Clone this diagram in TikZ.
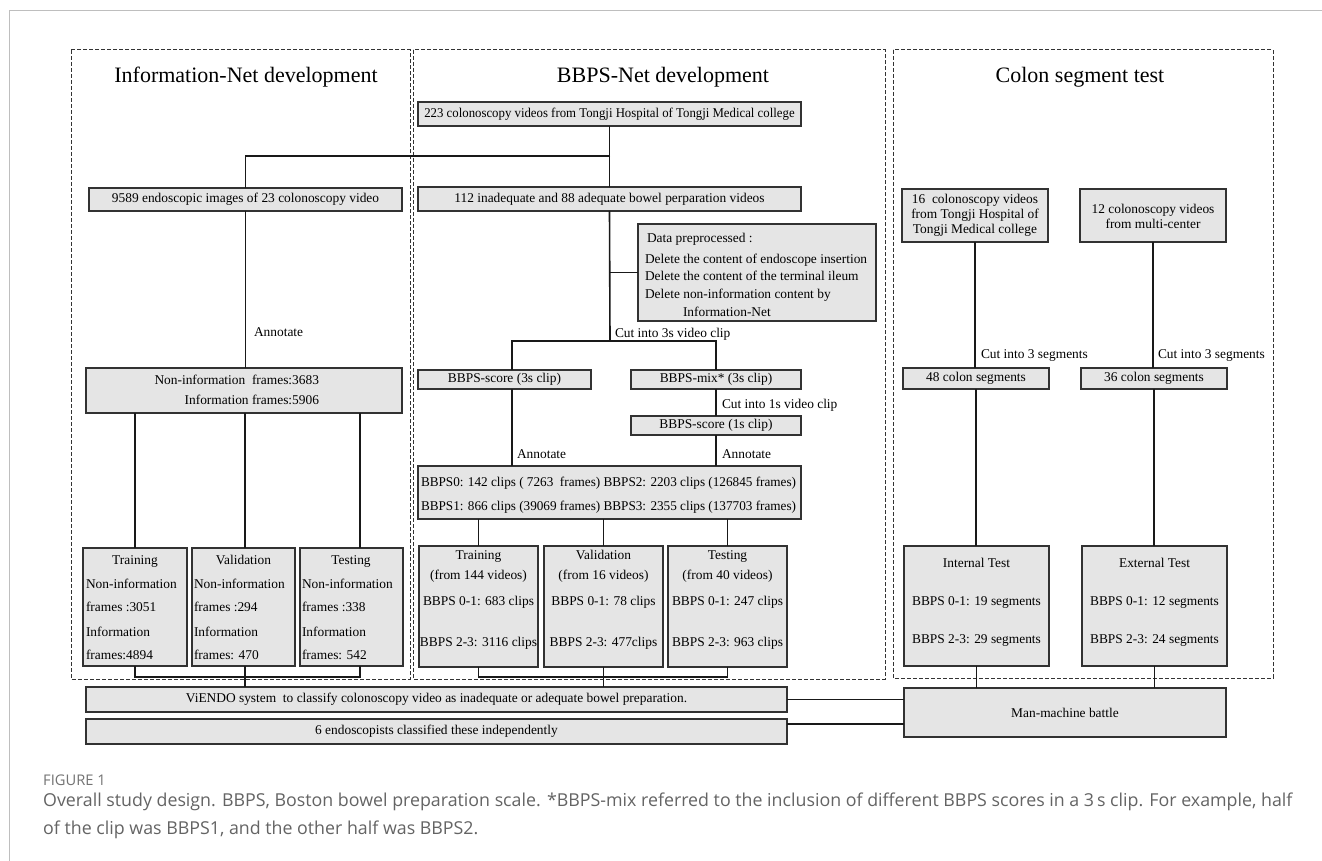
\documentclass[tikz,border=0pt]{standalone}
\usepackage{fontspec}
\setmainfont{Liberation Serif}
\newfontfamily\capfont{Open Sans}
\usetikzlibrary{calc}
\definecolor{boxfill}{RGB}{229,229,229}
\definecolor{boxdraw}{RGB}{50,50,50}
\definecolor{framegray}{RGB}{190,190,190}
\definecolor{capgray}{RGB}{100,100,100}
\definecolor{figgray}{RGB}{115,115,115}
\tikzset{
 box/.style={draw=boxdraw, fill=boxfill, line width=1.35pt, inner sep=0pt, outer sep=0pt, font=\fontsize{13.4}{15}\selectfont},
 txt/.style={inner sep=0pt, outer sep=0pt, font=\fontsize{13.4}{15}\selectfont},
 ttl/.style={inner sep=0pt, outer sep=0pt, font=\fontsize{22}{24}\selectfont},
 conn/.style={draw=black!90, line width=1.6pt},
 panel/.style={draw=black!80, line width=1pt, dash pattern=on 4pt off 2pt},
}
\newcommand{\bx}[6]{\node[box,minimum width={#4pt-#2pt},minimum height={#5pt-#3pt}] (#1) at ({(#2+#4)/2},{(#3+#5)/2}) {#6};}
\newcommand{\tx}[5][base]{\node[txt,anchor=#1] (#2) at (#3,{#4+4.5}) {#5};}
\begin{document}
\begin{tikzpicture}[x=1pt,y=-1pt]
\useasboundingbox (0,0) rectangle (1322,861);
\fill[white] (0,0) rectangle (1322,861);
\draw[framegray, line width=1pt] (9,861) -- (9,11) -- (1322,11);

% panels
\draw[panel] (71,50) rectangle (410,679);
\draw[panel] (413,50) rectangle (885,679);
\draw[panel] (893,50) rectangle (1273,678);
\node[ttl,anchor=base] (t1) at (246,83) {Information-Net development};
\node[ttl,anchor=base] (t2) at (663,83) {BBPS-Net development};
\node[ttl,anchor=base] (t3) at (1080,83) {Colon segment test};

% helper coordinates
\coordinate (j1) at (610,156);
\coordinate (j2) at (610,341);
\coordinate (x360) at (360,0);
\coordinate (x512) at (512,0);
\coordinate (x245) at (245,0);
\coordinate (y677) at (0,677);
\coordinate (y724) at (0,724);

% ---------------- left panel
\bx{imgs}{89}{188}{402}{211}{9589 endoscopic images of 23 colonoscopy video}
\bx{noninfo}{86}{368}{402}{413}{}
\tx[base east]{ni1}{319}{380}{Non-information\ \ frames:3683}
\tx[base east]{ni2}{319}{400}{Information frames:5906}
\tx[base west]{annL}{254}{332}{Annotate}
\bx{trL}{83}{548}{187}{666}{}
\bx{vaL}{192}{548}{295}{666}{}
\bx{teL}{300}{548}{403}{666}{}
\tx{trLt}{135}{560}{Training}
\tx[base west]{trL1}{86}{584}{Non-information}
\tx[base west]{trL2}{86}{607}{frames :3051}
\tx[base west]{trL3}{86}{632}{Information}
\tx[base west]{trL4}{86}{655}{frames:4894}
\tx{vaLt}{243.5}{560}{Validation}
\tx[base west]{vaL1}{194}{584}{Non-information}
\tx[base west]{vaL2}{194}{607}{frames :294}
\tx[base west]{vaL3}{194}{632}{Information}
\tx[base west]{vaL4}{194}{655}{frames: 470}
\tx{teLt}{351}{560}{Testing}
\tx[base west]{teL1}{302}{584}{Non-information}
\tx[base west]{teL2}{302}{607}{frames :338}
\tx[base west]{teL3}{302}{632}{Information}
\tx[base west]{teL4}{302}{655}{frames: 542}

% ---------------- middle panel
\bx{v223}{418}{102}{801}{126}{\scalebox{0.955}[1]{223 colonoscopy videos from Tongji Hospital of Tongji Medical college}}
\bx{v112}{418}{187}{801}{211}{112 inadequate and 88 adequate bowel perparation videos}
\bx{prep}{638}{224}{876}{321}{}
\tx[base west]{p0}{647}{238}{Data preprocessed :}
\tx[base west]{p1}{645}{259}{Delete the content of endoscope insertion}
\tx[base west]{p2}{645}{276}{Delete the content of the terminal ileum}
\tx[base west]{p3}{645}{294}{Delete non-information content by}
\tx[base west]{p4}{683}{312}{Information-Net}
\bx{s3}{418}{370}{591}{389}{BBPS-score (3s clip)}
\bx{m3}{631}{370}{801}{389}{BBPS-mix* (3s clip)}
\bx{s1}{631}{416}{801}{435}{BBPS-score (1s clip)}
\bx{big}{418}{466}{801}{519}{}
\tx[base west]{b1}{421}{482}{\scalebox{0.985}[1]{BBPS0: 142 clips (\ 7263\ \ frames) BBPS2: 2203 clips (126845 frames)}}
\tx[base west]{b2}{421}{506}{\scalebox{0.985}[1]{BBPS1: 866 clips (39069 frames) BBPS3: 2355 clips (137703 frames)}}
\tx[base west]{cut3}{615}{333}{Cut into 3s video clip}
\tx[base west]{cut1}{722}{404}{Cut into 1s video clip}
\tx[base west]{annM1}{517}{454}{Annotate}
\tx[base west]{annM2}{722}{454}{Annotate}
\bx{trM}{419}{546}{538}{667}{}
\bx{vaM}{544}{546}{663}{667}{}
\bx{teM}{668}{546}{787}{667}{}
\tx{trM1}{478.5}{555}{Training}
\tx{trM2}{478.5}{575}{(from 144 videos)}
\tx{trM3}{478.5}{601}{BBPS 0-1: 683 clips}
\tx{trM4}{478.5}{642}{BBPS 2-3: 3116 clips}
\tx{vaM1}{603.5}{555}{Validation}
\tx{vaM2}{603.5}{575}{(from 16 videos)}
\tx{vaM3}{603.5}{601}{BBPS 0-1: 78 clips}
\tx{vaM4}{603.5}{642}{BBPS 2-3: 477clips}
\tx{teM1}{727.5}{555}{Testing}
\tx{teM2}{727.5}{575}{(from 40 videos)}
\tx{teM3}{727.5}{601}{BBPS 0-1: 247 clips}
\tx{teM4}{727.5}{642}{BBPS 2-3: 963 clips}

% ---------------- right panel
\bx{c16}{902}{189}{1048}{242}{}
\tx{c16a}{975}{199}{16\ \ colonoscopy videos}
\tx{c16b}{975}{214}{from Tongji Hospital of}
\tx{c16c}{975}{229}{Tongji Medical college}
\bx{c12}{1080}{189}{1226}{242}{}
\tx{c12a}{1153}{209}{12 colonoscopy videos}
\tx{c12b}{1153}{224}{from multi-center}
\bx{s48}{903}{368}{1049}{389}{48 colon segments}
\bx{s36}{1081}{368}{1227}{389}{36 colon segments}
\tx[base west]{cs1}{981}{354}{Cut into 3 segments}
\tx[base west]{cs2}{1158}{354}{Cut into 3 segments}
\bx{intT}{904}{546}{1049}{666}{}
\tx{intT1}{976.5}{563}{Internal Test}
\tx{intT2}{976.5}{601}{BBPS 0-1: 19 segments}
\tx{intT3}{976.5}{639}{BBPS 2-3: 29 segments}
\bx{extT}{1082}{546}{1227}{666}{}
\tx{extT1}{1154.5}{563}{External Test}
\tx{extT2}{1154.5}{601}{BBPS 0-1: 12 segments}
\tx{extT3}{1154.5}{639}{BBPS 2-3: 24 segments}

% ---------------- bottom
\bx{viendo}{86}{687}{787}{712}{ViENDO system\ \ to classify colonoscopy video as inadequate or adequate bowel preparation.}
\bx{endo}{86}{719}{787}{744}{6 endoscopists classified these independently}
\bx{mm}{904}{688}{1226}{737}{Man-machine battle}

% ---------------- connectors
\draw[conn] (v223.south) -- (v112.north);
\draw[conn] (j1) -| (imgs.north);
\draw[conn] (imgs.south) -- (imgs.south |- noninfo.north);
\draw[conn] (noninfo.south -| trL.north) -- (trL.north);
\draw[conn] (noninfo.south -| x245) -- (vaL.north -| x245);
\draw[conn] (noninfo.south -| x360) -- (teL.north -| x360);
\draw[conn] (trL.south) |- (y677 -| x360) -- (teL.south -| x360);
\draw[conn] (vaL.south -| x245) -- (viendo.north -| x245);

\draw[conn] (v112.south) -- (j2);
\draw[conn] (v112.south |- prep.west) -- (prep.west);
\draw[conn] (s3.north -| x512) |- (m3.north |- j2) -- (m3.north);
\draw[conn] (m3.south) -- (s1.north);
\draw[conn] (s1.south) -- (s1.south |- big.north);
\draw[conn] (s3.south -| x512) -- (big.north -| x512);
\draw[conn] (big.south -| trM.north) -- (trM.north);
\draw[conn] (big.south -| vaM.north) -- (vaM.north);
\draw[conn] (big.south -| teM.north) -- (teM.north);
\draw[conn] (trM.south) |- (y677 -| teM.south) -- (teM.south);
\draw[conn] (vaM.south) -- (vaM.south |- viendo.north);

\draw[conn] (c16.south) -- (c16.south |- s48.north);
\draw[conn] (s48.south) -- (s48.south |- intT.north);
\draw[conn] (intT.south) -- (intT.south |- mm.north);
\draw[conn] (c12.south) -- (c12.south |- s36.north);
\draw[conn] (s36.south) -- (s36.south |- extT.north);
\draw[conn] (extT.south) -- (extT.south |- mm.north);

\draw[conn] (viendo.east) -- (viendo.east -| mm.west);
\draw[conn] (endo.east |- y724) -- (mm.west |- y724);

% ---------------- caption
\node[anchor=base west, inner sep=0pt, text=figgray, font=\capfont\fontsize{14.7}{16}\selectfont] (fig) at (43,785) {FIGURE 1};
\node[anchor=base west, inner sep=0pt, text=capgray, font=\capfont\fontsize{17.8}{20}\selectfont] (cap1) at (43,806) {Overall study design. BBPS, Boston bowel preparation scale. *BBPS-mix referred to the inclusion of different BBPS scores in a 3\,s clip. For example, half};
\node[anchor=base west, inner sep=0pt, text=capgray, font=\capfont\fontsize{17.8}{20}\selectfont] (cap2) at (43,834) {of the clip was BBPS1, and the other half was BBPS2.};
\end{tikzpicture}
\end{document}
